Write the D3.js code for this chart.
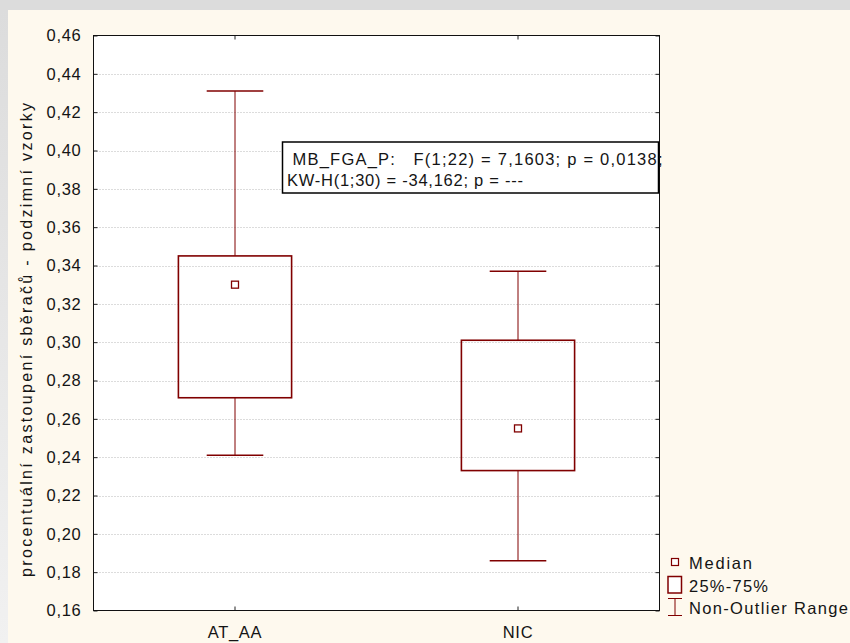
<!DOCTYPE html>
<html>
<head>
<meta charset="utf-8">
<script src="https://cdn.jsdelivr.net/npm/d3@7"></script>
<style>
  html, body { margin: 0; padding: 0; background: #dcdcdc; }
  svg { display: block; font-family: "Liberation Sans", Arial, sans-serif; }
</style>
</head>
<body>
<script>
// Box plot data: percentage share of harvesters, autumn samples
const categories = ["AT_AA", "NIC"];
const whiskerLow  = [0.241, 0.186];
const q1          = [0.271, 0.233];
const medians     = [0.330, 0.255];
const q3          = [0.345, 0.301];
const whiskerHigh = [0.431, 0.337];
const yTicks = [0.16, 0.18, 0.20, 0.22, 0.24, 0.26, 0.28, 0.30, 0.32, 0.34, 0.36, 0.38, 0.40, 0.42, 0.44, 0.46];
const yTitle = "procentuální zastoupení sběračů - podzimní vzorky";
const statLines = ["MB_FGA_P:   F(1;22) = 7,1603; p = 0,0138;", "KW-H(1;30) = -34,162; p = ---"];
const legendItems = ["Median", "25%-75%", "Non-Outlier Range"];

const W = 850, H = 643;
const box = { left: 93.5, top: 35.5, right: 659.5, bottom: 610.5 };
const dark = "#800000";
const ink = "#141414";

const svg = d3.select("body").append("svg").attr("width", W).attr("height", H);

// window frame and cream panel
const defs = svg.append("defs");
const grad = defs.append("linearGradient").attr("id", "leftband").attr("x1", 0).attr("y1", 0).attr("x2", 0).attr("y2", 1);
grad.append("stop").attr("offset", 0).attr("stop-color", "#dcdcdc");
grad.append("stop").attr("offset", 1).attr("stop-color", "#f1f1f1");
svg.append("rect").attr("x", 0).attr("y", 0).attr("width", W).attr("height", H).attr("fill", "#dcdcdc");
svg.append("rect").attr("x", 0).attr("y", 10).attr("width", 8).attr("height", H - 10).attr("fill", "url(#leftband)");
svg.append("rect").attr("x", 8).attr("y", 10).attr("width", W - 8).attr("height", H - 10).attr("fill", "#fef9ee");

const x = d3.scaleBand().domain(categories).range([box.left, box.right]).paddingInner(0).paddingOuter(0);
const y = d3.scaleLinear().domain([0.16, 0.46]).range([box.bottom, box.top]);

// plot area
svg.append("rect").attr("x", box.left).attr("y", box.top)
  .attr("width", box.right - box.left).attr("height", box.bottom - box.top).attr("fill", "#fff");

// dotted grid lines
svg.append("g").selectAll("line").data(yTicks.slice(1, -1)).join("line")
  .attr("x1", box.left).attr("x2", box.right)
  .attr("y1", d => Math.round(y(d)) + 0.5).attr("y2", d => Math.round(y(d)) + 0.5)
  .attr("stroke", "#b8b8b8").attr("stroke-dasharray", "1,2");

// y axes (left labels, ticks inward on both sides)
const fmt = d => d3.format(".2f")(d).replace(".", ",");
const yAxisL = d3.axisLeft(y).tickValues(yTicks).tickSize(-4).tickFormat(fmt).tickPadding(12);
const gl = svg.append("g").attr("transform", `translate(${box.left},0)`).call(yAxisL);
gl.select(".domain").remove();
gl.selectAll(".tick line").attr("stroke", "#222");
gl.selectAll(".tick text").attr("font-size", 16.5).attr("fill", ink)
  .attr("letter-spacing", "0.7px").attr("font-family", "Liberation Sans, Arial, sans-serif");

const yAxisR = d3.axisRight(y).tickValues(yTicks).tickSize(-4).tickFormat("");
const gr = svg.append("g").attr("transform", `translate(${box.right},0)`).call(yAxisR);
gr.select(".domain").remove();
gr.selectAll(".tick line").attr("stroke", "#222");

// x axes
const xAxisB = d3.axisBottom(x).tickSize(-4).tickPadding(16);
const gb = svg.append("g").attr("transform", `translate(0,${box.bottom})`).call(xAxisB);
gb.select(".domain").remove();
gb.selectAll(".tick line").attr("stroke", "#222");
gb.selectAll(".tick text").attr("font-size", 16.5).attr("fill", ink).attr("letter-spacing", "0.7px")
  .attr("font-family", "Liberation Sans, Arial, sans-serif");

const xAxisT = d3.axisTop(x).tickSize(-4).tickFormat("");
const gt = svg.append("g").attr("transform", `translate(0,${box.top})`).call(xAxisT);
gt.select(".domain").remove();
gt.selectAll(".tick line").attr("stroke", "#222");

// frame
svg.append("rect").attr("x", box.left).attr("y", box.top)
  .attr("width", box.right - box.left).attr("height", box.bottom - box.top)
  .attr("fill", "none").attr("stroke", "#111").attr("stroke-width", 1);

// boxes
const bw = x.bandwidth();
const boxW = bw * 0.4, capW = bw * 0.2;
const groups = svg.append("g").selectAll("g").data(categories).join("g");
const cx = d => x(d) + bw / 2;

groups.append("line")
  .attr("x1", cx).attr("x2", cx)
  .attr("y1", (d, i) => y(whiskerHigh[i])).attr("y2", (d, i) => y(q3[i]))
  .attr("stroke", dark).attr("stroke-width", 1);
groups.append("line")
  .attr("x1", cx).attr("x2", cx)
  .attr("y1", (d, i) => y(q1[i])).attr("y2", (d, i) => y(whiskerLow[i]))
  .attr("stroke", dark).attr("stroke-width", 1);
groups.append("line")
  .attr("x1", d => cx(d) - capW / 2).attr("x2", d => cx(d) + capW / 2)
  .attr("y1", (d, i) => y(whiskerHigh[i])).attr("y2", (d, i) => y(whiskerHigh[i]))
  .attr("stroke", dark).attr("stroke-width", 1.5);
groups.append("line")
  .attr("x1", d => cx(d) - capW / 2).attr("x2", d => cx(d) + capW / 2)
  .attr("y1", (d, i) => y(whiskerLow[i])).attr("y2", (d, i) => y(whiskerLow[i]))
  .attr("stroke", dark).attr("stroke-width", 1.5);
groups.append("rect")
  .attr("x", d => cx(d) - boxW / 2).attr("width", boxW)
  .attr("y", (d, i) => y(q3[i])).attr("height", (d, i) => y(q1[i]) - y(q3[i]))
  .attr("fill", "none").attr("stroke", dark).attr("stroke-width", 1.6);
groups.append("rect")
  .attr("x", d => cx(d) - 3.5).attr("width", 7)
  .attr("y", (d, i) => y(medians[i]) - 3.5).attr("height", 7)
  .attr("fill", "#fff").attr("stroke", dark).attr("stroke-width", 1.3);

// statistics box
svg.append("rect").attr("x", 282.5).attr("y", 142).attr("width", 376).attr("height", 51)
  .attr("fill", "#fff").attr("stroke", "#000").attr("stroke-width", 1.5);
svg.append("text").attr("x", 292.5).attr("y", 164.5).attr("font-size", 16.5).attr("fill", ink)
  .attr("textLength", 370).attr("lengthAdjust", "spacing")
  .style("white-space", "pre").text(statLines[0]);
svg.append("text").attr("x", 287).attr("y", 186).attr("font-size", 16.5).attr("fill", ink)
  .attr("textLength", 236).attr("lengthAdjust", "spacing")
  .style("white-space", "pre").text(statLines[1]);

// y-axis title
svg.append("text")
  .attr("transform", "translate(32,340) rotate(-90)")
  .attr("text-anchor", "middle").attr("font-size", 16).attr("fill", ink)
  .attr("textLength", 474).attr("lengthAdjust", "spacing")
  .text(yTitle);

// legend
const lg = svg.append("g");
lg.append("rect").attr("x", 671.5).attr("y", 558.5).attr("width", 7).attr("height", 7)
  .attr("fill", "#fff").attr("stroke", dark).attr("stroke-width", 1.2);
lg.append("rect").attr("x", 668).attr("y", 576.5).attr("width", 13.5).attr("height", 16.5)
  .attr("fill", "#fff").attr("stroke", dark).attr("stroke-width", 1.5);
lg.append("line").attr("x1", 675).attr("x2", 675).attr("y1", 598).attr("y2", 615).attr("stroke", dark);
lg.append("line").attr("x1", 668).attr("x2", 682).attr("y1", 598.5).attr("y2", 598.5).attr("stroke", dark);
lg.append("line").attr("x1", 668).attr("x2", 682).attr("y1", 615.5).attr("y2", 615.5).attr("stroke", dark);
const legendY = [569, 592, 614];
const legendW = [63, 79, 159];
lg.selectAll("text").data(legendItems).join("text")
  .attr("x", 689).attr("y", (d, i) => legendY[i])
  .attr("font-size", 16.5).attr("fill", ink)
  .attr("textLength", (d, i) => legendW[i]).attr("lengthAdjust", "spacing")
  .text(d => d);
</script>
</body>
</html>
